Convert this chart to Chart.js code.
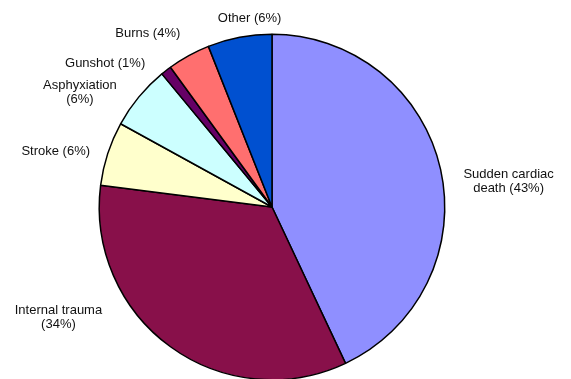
<!DOCTYPE html>
<html>
<head>
<meta charset="utf-8">
<script src="https://cdn.jsdelivr.net/npm/chart.js@4"></script>
<style>
  html, body { margin: 0; padding: 0; background: #fff; overflow: hidden; }
  #wrap { position: relative; width: 571px; height: 390px; }
</style>
</head>
<body>
<div id="wrap"><canvas id="piechart"></canvas></div>
<script>
// causes of death, percent
var causes = ['Sudden cardiac\ndeath', 'Internal trauma', 'Stroke', 'Asphyxiation', 'Gunshot', 'Burns', 'Other'];
var shares = [43, 34, 6, 6, 1, 4, 6];
var sliceColors = ['#8f8fff', '#88104a', '#ffffcc', '#ccffff', '#660066', '#ff6f6f', '#0050d0'];

// label nudges from the slice rim (px)
var labelNudge = [[68, 12], [-112, -29], [-52, -2], [-59, -4], [-61, -7], [-41, -22], [10, -19]];

function labelText(i) {
  var lines = causes[i].split('\n');
  var pct = '(' + shares[i] + '%)';
  if (lines.length > 1) lines[lines.length - 1] += ' ' + pct;
  else if (i === 1 || i === 3) lines.push(pct);
  else lines[0] += ' ' + pct;
  return lines;
}

var sliceLabels = {
  id: 'sliceLabels',
  afterDraw: function (chart) {
    var ctx = chart.ctx;
    var arcs = chart.getDatasetMeta(0).data;
    ctx.save();
    ctx.font = '13px "Liberation Sans", Arial, sans-serif';
    ctx.fillStyle = '#111';
    ctx.textAlign = 'center';
    ctx.textBaseline = 'middle';
    arcs.forEach(function (arc, i) {
      var mid = (arc.startAngle + arc.endAngle) / 2;
      var px = arc.x + Math.cos(mid) * arc.outerRadius + labelNudge[i][0];
      var py = arc.y + Math.sin(mid) * arc.outerRadius + labelNudge[i][1];
      var lines = labelText(i);
      var lh = 14;
      var y0 = py - (lines.length - 1) * lh / 2;
      lines.forEach(function (t, k) { ctx.fillText(t, px, y0 + k * lh); });
    });
    ctx.restore();
  }
};

var ctx = document.getElementById('piechart').getContext('2d');
new Chart(ctx, {
  type: 'pie',
  data: {
    labels: causes,
    datasets: [{
      data: shares,
      backgroundColor: sliceColors,
      borderColor: '#000',
      borderWidth: 1.5
    }]
  },
  options: {
    responsive: true,
    maintainAspectRatio: false,
    animation: false,
    layout: { padding: { left: 98.5, right: 125.5, top: 33.5, bottom: 9.5 } },
    plugins: {
      legend: { display: false },
      tooltip: { enabled: false }
    }
  },
  plugins: [sliceLabels]
});
</script>
</body>
</html>
